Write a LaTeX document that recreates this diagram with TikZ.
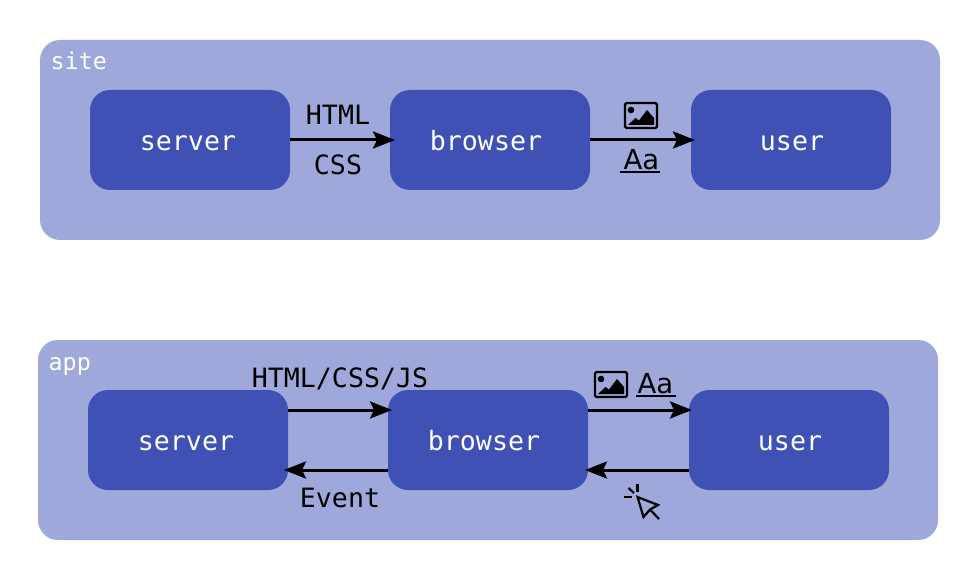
\documentclass[tikz,border=0pt]{standalone}
\usepackage{fontspec}
\setmonofont{DejaVu Sans Mono}
\newfontfamily\aafont{DejaVu Sans}
\usetikzlibrary{arrows.meta}
\definecolor{panelc}{HTML}{9FA8DA}
\definecolor{boxc}{HTML}{3F51B5}
\tikzset{
  panel/.style={fill=panelc,rounded corners=20pt,minimum width=900pt,minimum height=200pt,inner sep=0pt,outer sep=0pt},
  box/.style={fill=boxc,rounded corners=20pt,minimum width=200pt,minimum height=100pt,inner sep=0pt,outer sep=0pt,text=white,text height=20.6pt,text depth=0pt,font=\ttfamily\fontsize{26.6}{30}\selectfont},
  panellabel/.style={anchor=base west,inner sep=0pt,text=white,font=\ttfamily\fontsize{23.3}{28}\selectfont},
  edgelabel/.style={anchor=base,inner sep=0pt,text=black,font=\ttfamily\fontsize{26.6}{30}\selectfont},
  biglabel/.style={edgelabel,font=\aafont\fontsize{27.5}{30}\selectfont},
  link/.style={line width=3pt,draw=black,-{Stealth[length=22pt,width=17pt,inset=4pt]}},
  uline/.style={line width=2pt,draw=black},
  thinicon/.style={line width=2.2pt,draw=black},
}
\newcommand{\imgicon}[2]{%
  \begin{scope}[shift={(#1,#2)}]
    \draw[line width=2.2pt,rounded corners=1.5pt] (1,1) rectangle (33,26);
    \fill (7,8) circle (3.3pt);
    \fill (4,23) -- (11.5,16) -- (15,18.5) -- (23,8) -- (30,16) -- (30,23) -- cycle;
  \end{scope}}
\begin{document}
\begin{tikzpicture}[x=1pt,y=-1pt]
\useasboundingbox (0,0) rectangle (980,580);
% site
\node[panel] (sitepanel) at (490,140) {};
\node[panellabel] (sitelabel) at (50.5,70) {site};
\node[box] (s1) at (190,140) {server\kern4pt\null};
\node[box] (s2) at (490,140) {browser\kern8pt\null};
\node[box] (s3) at (791,140) {\kern2pt user};
\draw[link,shorten >=-5pt] (s1) -- (s2);
\draw[link,shorten >=-4pt] (s2) -- (s3);
\node[edgelabel] (htmlL) at (338,124.5) {HTML};
\node[edgelabel] (cssL) at (338,174.5) {CSS};
\imgicon{624}{102}
\node[biglabel] (aa1) at (641.5,170) {Aa};
\draw[uline] (620,172.5) -- (660,172.5);
% app
\node[panel] (apppanel) at (488,440) {};
\node[panellabel] (applabel) at (48.5,370) {app};
\node[box] (a1) at (188,440) {server\kern4pt\null};
\node[box] (a2) at (488,440) {browser\kern8pt\null};
\node[box] (a3) at (789,440) {\kern2pt user};
\draw[link,shorten >=-4pt] ([yshift=30pt]a1.east) -- ([yshift=30pt]a2.west);
\draw[link,shorten >=-4pt] ([yshift=-30pt]a2.west) -- ([yshift=-30pt]a1.east);
\draw[link,shorten >=-3pt] ([yshift=30pt]a2.east) -- ([yshift=30pt]a3.west);
\draw[link,shorten >=-3pt] ([yshift=-30pt]a3.west) -- ([yshift=-30pt]a2.east);
\node[edgelabel] (htmlJ) at (340,387.5) {HTML/CSS/JS};
\node[edgelabel] (evt) at (340,507) {Event};
\imgicon{594}{371}
\node[biglabel] (aa2) at (655.5,393) {Aa};
\draw[uline] (636,395.5) -- (676,395.5);
% cursor
\draw[thinicon,line join=miter] (637.5,497) -- (658,505) -- (650,509.5) -- (643.5,517) -- cycle;
\draw[thinicon] (650,509.5) -- (659,519);
\draw[thinicon] (637.5,484) -- (637.5,492);
\draw[thinicon] (624,497) -- (632,497);
\draw[thinicon] (628.5,488) -- (634,493);
\end{tikzpicture}
\end{document}
